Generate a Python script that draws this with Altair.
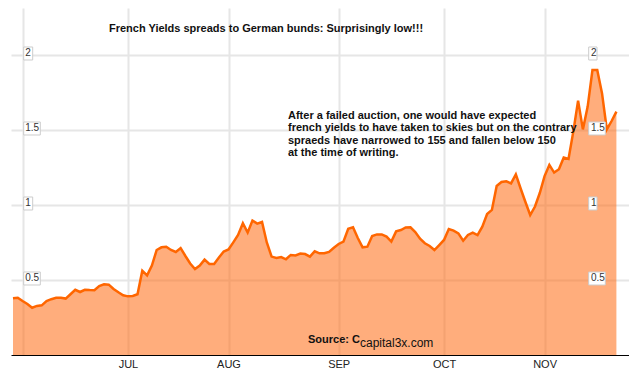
import altair as alt
import pandas as pd

# French OAT - German Bund spread (percentage points), daily, trading days
spread = [
    0.378, 0.382, 0.360, 0.340, 0.315, 0.327, 0.331, 0.360, 0.372, 0.382,
    0.382, 0.376, 0.405, 0.435, 0.420, 0.435, 0.433, 0.432, 0.460, 0.471,
    0.469, 0.440, 0.418, 0.398, 0.391, 0.394, 0.405, 0.562, 0.531, 0.596,
    0.700, 0.718, 0.722, 0.700, 0.687, 0.713, 0.660, 0.610, 0.573, 0.596,
    0.636, 0.607, 0.607, 0.650, 0.690, 0.704, 0.751, 0.800, 0.878, 0.816,
    0.896, 0.876, 0.887, 0.750, 0.656, 0.647, 0.653, 0.638, 0.667, 0.664,
    0.676, 0.673, 0.656, 0.691, 0.678, 0.678, 0.687, 0.715, 0.740, 0.756,
    0.842, 0.851, 0.780, 0.718, 0.722, 0.793, 0.804, 0.804, 0.789, 0.756,
    0.824, 0.833, 0.850, 0.851, 0.820, 0.775, 0.745, 0.727, 0.700, 0.733,
    0.767, 0.840, 0.829, 0.811, 0.762, 0.800, 0.816, 0.800, 0.856, 0.940,
    0.967, 1.127, 1.153, 1.158, 1.144, 1.204, 1.110, 1.020, 0.933, 0.990,
    1.080, 1.193, 1.267, 1.216, 1.238, 1.316, 1.307, 1.489, 1.696, 1.504,
    1.656, 1.900, 1.900, 1.744, 1.504, 1.560, 1.622,
]
start_date = "2011-05-30"
month_labels = ["", "JUL", "AUG", "SEP", "OCT", "NOV"]
y_ticks = [0.5, 1, 1.5, 2]
y_tick_labels = ["0.5", "1", "1.5", "2"]
title_text = "French Yields spreads to German bunds: Surprisingly low!!!"
note_lines = [
    "After a failed auction, one would have expected",
    "french yields to have taken to skies but on the contrary",
    "spraeds have narrowed to 155 and fallen below 150",
    "at the time of writing.",
]
source_a = "Source: C"
source_b = "capital3x.com"

FONT = "Liberation Sans"

dates = pd.bdate_range(start_date, periods=len(spread))
df = pd.DataFrame({"i": list(range(len(spread))), "spread": spread, "date": dates})
starts = [i for i in range(1, len(dates)) if dates[i].month != dates[i - 1].month]
label_expr = "[" + ",".join("'%s'" % s for s in month_labels) + "][indexof([" + \
    ",".join(str(s) for s in starts) + "], datum.value)]"

ticks_df = pd.DataFrame({"v": y_ticks, "lab": y_tick_labels})

x_enc = alt.X("i:Q",
              scale=alt.Scale(domain=[-0.418, 128.63], nice=False, zero=False),
              axis=alt.Axis(values=starts, labelExpr=label_expr, grid=True,
                            gridColor="#e6e6e6", gridWidth=2, ticks=False,
                            domainColor="#000000", domainWidth=1,
                            labelColor="#222222", labelFontSize=11, labelFont=FONT,
                            labelPadding=3, title=None))
y_scale = alt.Scale(domain=[0, 2.3133], nice=False)
y_enc = alt.Y("spread:Q", scale=y_scale,
              axis=alt.Axis(values=y_ticks, labels=False, ticks=False, domain=False,
                            grid=True, gridColor="#e6e6e6", gridWidth=2, title=None))

base = alt.Chart(df)
area = base.mark_area(color="#FF6A10", opacity=0.55).encode(x=x_enc, y=y_enc)
line = base.mark_line(color="#FF6600", strokeWidth=2.5).encode(x="i:Q", y="spread:Q")

tb = alt.Chart(ticks_df)
yv = alt.Y("v:Q", scale=y_scale)
yv2 = alt.Y2("v:Q")


def boxes(x0, x1, nchar_filter):
    return tb.transform_filter(nchar_filter).mark_rect(
        fill="white", stroke="#cccccc", strokeWidth=1, yOffset=-8, y2Offset=5
    ).encode(x=alt.value(x0), x2=alt.value(x1), y=yv, y2=yv2)


short = "length(datum.lab) == 1"
long_ = "length(datum.lab) > 1"
box_layers = [
    boxes(12.7, 21.7, short), boxes(12.7, 29.3, long_),
    boxes(577.7, 586, short), boxes(577.7, 594.3, long_),
]
lab_left = tb.mark_text(align="left", baseline="middle", dy=-2, fontSize=10,
                        font=FONT, color="#333333").encode(
    x=alt.value(14.2), y=yv, text="lab:N")
lab_right = tb.mark_text(align="left", baseline="middle", dy=-2, fontSize=10,
                         font=FONT, color="#333333").encode(
    x=alt.value(579.9), y=yv, text="lab:N")

one = pd.DataFrame({"k": [0]})
oc = alt.Chart(one)
title = oc.mark_text(text=title_text, align="center", baseline="middle",
                     fontSize=11, fontWeight="bold", font=FONT, color="#111111").encode(
    x=alt.value(255), y=alt.value(21))
note = oc.mark_text(text=note_lines, align="left", baseline="top", lineHeight=12.4,
                    fontSize=11, fontWeight="bold", font=FONT, color="#111111").encode(
    x=alt.value(277), y=alt.value(102))
src_a = oc.mark_text(text=source_a, align="left", baseline="middle", fontSize=11,
                     fontWeight="bold", font=FONT, color="#111111").encode(
    x=alt.value(297), y=alt.value(332))
src_b = oc.mark_text(text=source_b, align="left", baseline="middle", fontSize=12,
                     font=FONT, color="#111111").encode(
    x=alt.value(349), y=alt.value(335))

chart = alt.layer(area, line, *box_layers, lab_left, lab_right, title, note, src_a, src_b).properties(
    width=618, height=347, padding=0, background="white"
).configure_view(stroke=None)

chart.save("out.html", embed_options={"renderer": "svg", "actions": False})
